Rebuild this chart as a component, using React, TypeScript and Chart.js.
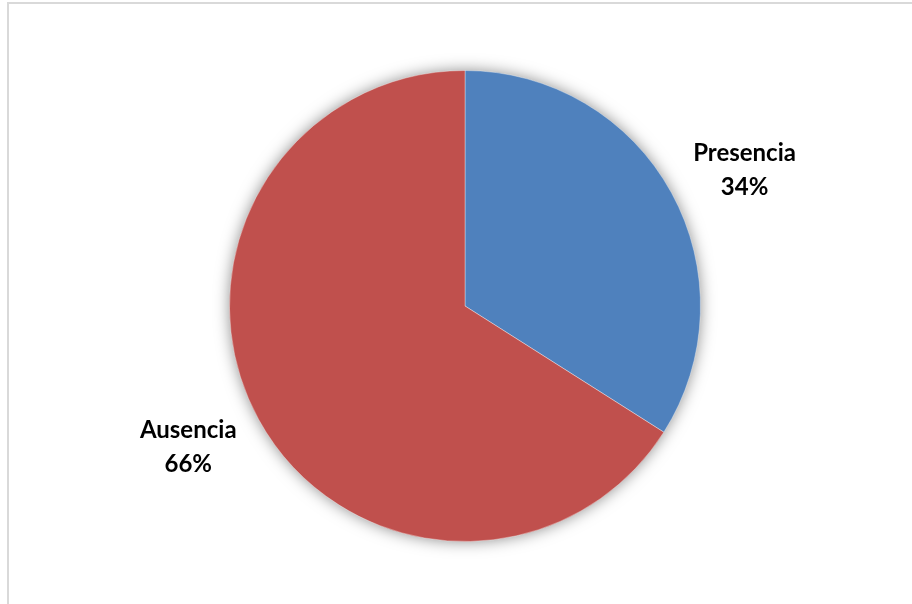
import React, { useEffect, useRef } from "react";
import { Chart, registerables } from "chart.js";

Chart.register(...registerables);

const categories = ["Presencia", "Ausencia"];
const values = [34, 66];
const percentLabels = ["34%", "66%"];
const colors = ["#4F81BD", "#C0504D"];

const shadowPlugin = {
  id: "pieShadow",
  beforeDatasetsDraw(chart: any) {
    const meta = chart.getDatasetMeta(0);
    const arc = meta.data[0];
    if (!arc) return;
    const { x, y, outerRadius } = arc.getProps(["x", "y", "outerRadius"], true);
    const ctx = chart.ctx;
    ctx.save();
    ctx.beginPath();
    ctx.arc(x, y, outerRadius - 1, 0, Math.PI * 2);
    ctx.shadowColor = "rgba(0,0,0,0.5)";
    ctx.shadowBlur = 16;
    ctx.fillStyle = "#ffffff";
    ctx.fill();
    ctx.restore();
  },
};

const labelPlugin = {
  id: "outLabels",
  afterDatasetsDraw(chart: any) {
    const meta = chart.getDatasetMeta(0);
    const ctx = chart.ctx;
    ctx.save();
    ctx.font = "bold 24px Lato, 'Open Sans', sans-serif";
    ctx.fillStyle = "#000000";
    ctx.textAlign = "center";
    ctx.textBaseline = "middle";
    meta.data.forEach((arc: any, i: number) => {
      const { x, y, startAngle, endAngle, outerRadius } = arc.getProps(
        ["x", "y", "startAngle", "endAngle", "outerRadius"],
        true
      );
      const mid = (startAngle + endAngle) / 2 + (i === 0 ? 0.05 : 0.03);
      const d = outerRadius * 1.32;
      const cx = x + Math.cos(mid) * d;
      const cy = y + Math.sin(mid) * d;
      ctx.fillText(categories[i], cx, cy - 17);
      ctx.fillText(percentLabels[i], cx, cy + 17);
    });
    ctx.restore();
  },
};

export default function App() {
  const ref = useRef<HTMLCanvasElement | null>(null);
  useEffect(() => {
    if (!ref.current) return;
    const chart = new Chart(ref.current, {
      type: "pie",
      data: {
        labels: categories,
        datasets: [
          {
            data: values,
            backgroundColor: colors,
            borderColor: "rgba(255,255,255,0.35)",
            borderWidth: 1,
          },
        ],
      },
      options: {
        animation: false,
        responsive: false,
        maintainAspectRatio: false,
        layout: { padding: { top: 70, bottom: 62, left: 229, right: 211 } },
        plugins: {
          legend: { display: false },
          tooltip: { enabled: false },
        },
      },
      plugins: [shadowPlugin, labelPlugin],
    });
    return () => chart.destroy();
  }, []);
  return (
    <div
      style={{
        position: "fixed",
        left: 0,
        top: 0,
        width: 912,
        height: 604,
        background: "#ffffff",
        overflow: "hidden",
      }}
    >
      <div
        style={{
          position: "absolute",
          left: 7,
          top: 2,
          width: 920,
          height: 620,
          border: "2px solid #d9d9d9",
          boxSizing: "border-box",
        }}
      />
      <canvas
        ref={ref}
        width={912}
        height={604}
        style={{ position: "absolute", left: 0, top: 0, width: 912, height: 604 }}
      />
    </div>
  );
}
